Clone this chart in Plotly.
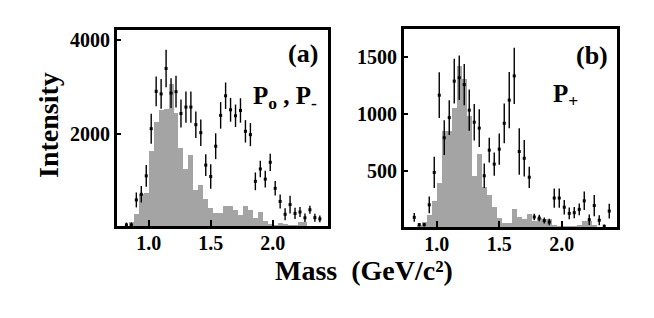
import plotly.graph_objects as go

# bin centres (GeV/c^2)
mass = [0.82, 0.86, 0.90, 0.94, 0.98, 1.02, 1.06, 1.10, 1.14, 1.18,
        1.22, 1.26, 1.30, 1.34, 1.38, 1.42, 1.46, 1.50, 1.54, 1.58,
        1.62, 1.66, 1.70, 1.74, 1.78, 1.82, 1.86, 1.90, 1.94, 1.98,
        2.02, 2.06, 2.10, 2.14, 2.18, 2.22, 2.26, 2.30, 2.34, 2.38]

# panel (a): P0, P-
a_points = [45, 45, 580, 700, 1095, 2105, 2905, 2850, 3395, 2866,
            2898, 2430, 2568, 2568, 2192, 2020, 1325, 1080, 1730, 2390,
            2810, 2510, 2382, 2496, 2049, 1978, 978, 1242, 1025, 1385,
            828, 547, 272, 480, 291, 322, 197, 369, 200, 173]
a_errors = [50, 50, 160, 177, 234, 320, 320, 320, 400, 320,
            340, 300, 335, 335, 284, 284, 234, 262, 277, 284,
            284, 255, 240, 262, 240, 248, 190, 177, 177, 184,
            156, 150, 128, 190, 120, 106, 92, 85, 85, 71]
a_hist = [0, 110, 270, 700, 730, 1620, 2250, 2500, 2520, 3060,
          2450, 1700, 1250, 1540, 800, 900, 590, 400, 300, 300,
          440, 440, 355, 262, 441, 355, 190, 319, 125, 54,
          32, 82, 54, 32, 32, 104, 104, 0, 0, 0]

# panel (b): P+
b_points = [93, 29, 29, 203, 486, 1162, 790, 966, 1285, 1315,
            1255, 1031, 926, 874, 457, 681, 559, 690, 916, 1119,
            1331, 669, 610, 444, 96, 87, 65, 52, 262, 262,
            182, 128, 134, 163, 238, 73, 196, 68, 15, 148]
b_errors = [38, 15, 15, 73, 137, 200, 152, 152, 195, 195,
            180, 180, 160, 166, 108, 108, 102, 137, 174, 247,
            247, 203, 160, 93, 29, 29, 26, 29, 84, 84,
            64, 52, 49, 52, 81, 46, 93, 44, 15, 64]
b_hist = [0, 30, 55, 110, 240, 390, 850, 850, 1050, 1420,
          1300, 980, 455, 650, 362, 290, 188, 90, 45, 40,
          170, 95, 80, 120, 65, 85, 80, 80, 30, 15,
          15, 15, 15, 25, 65, 65, 30, 0, 0, 0]

x_ticks = [1.0, 1.5, 2.0]
x_ticklabels = ["1.0", "1.5", "2.0"]
a_yticks = [2000, 4000]
b_yticks = [500, 1000, 1500]

W, H = 654, 318
FONT = "Liberation Serif, Times New Roman, serif"
GREY = "#a4a4a4"

fig = go.Figure()
for hist, pts, errs, xa, ya in [(a_hist, a_points, a_errors, "x", "y"),
                                (b_hist, b_points, b_errors, "x2", "y2")]:
    fig.add_trace(go.Bar(x=mass, y=hist, width=0.04, marker=dict(color=GREY, line=dict(width=0)),
                         xaxis=xa, yaxis=ya, showlegend=False, hoverinfo="skip"))
    fig.add_trace(go.Scatter(x=mass, y=pts, mode="markers",
                             marker=dict(symbol="square", size=3, color="black"),
                             error_y=dict(type="data", array=errs, color="black", thickness=1.4, width=0),
                             xaxis=xa, yaxis=ya, showlegend=False, hoverinfo="skip"))

def px_x(p):
    return p / W

def px_y(p):
    return 1 - p / H

axis_common = dict(showline=True, linecolor="black", linewidth=2, mirror=True,
                   ticks="inside", tickcolor="black", tickwidth=2, showgrid=False,
                   zeroline=False,
                   tickfont=dict(family=FONT, size=20, color="black", weight="bold"))

fig.update_layout(
    width=W, height=H, margin=dict(l=0, r=0, t=0, b=0),
    paper_bgcolor="white", plot_bgcolor="white", bargap=0,
    xaxis=dict(domain=[px_x(116), px_x(329)], range=[0.736, 2.454], anchor="y",
               tickvals=x_ticks, ticktext=x_ticklabels, ticklen=7, ticklabelstandoff=-3,
               **axis_common),
    yaxis=dict(domain=[px_y(227), px_y(29)], range=[0, 4240], anchor="x",
               tickvals=a_yticks, ticklen=5, **axis_common),
    xaxis2=dict(domain=[px_x(403), px_x(618)], range=[0.73, 2.45], anchor="y2",
                tickvals=x_ticks, ticktext=x_ticklabels, ticklen=7, ticklabelstandoff=-3,
                **axis_common),
    yaxis2=dict(domain=[px_y(228), px_y(28)], range=[0, 1750], anchor="x2",
                tickvals=b_yticks, ticklen=5, **axis_common),
)

# closed frames around both panels
for xr, yr in [("x domain", "y domain"), ("x2 domain", "y2 domain")]:
    fig.add_shape(type="rect", xref=xr, yref=yr, x0=0, x1=1, y0=0, y1=1,
                  line=dict(color="black", width=2), fillcolor="rgba(0,0,0,0)", layer="above")

def note(text, x, y, size, angle=0, xanchor="center"):
    fig.add_annotation(text=text, x=px_x(x), y=px_y(y), xref="paper", yref="paper",
                       showarrow=False, textangle=angle, xanchor=xanchor, yanchor="middle",
                       font=dict(family=FONT, size=size, color="black", weight="bold"))

note("Intensity", 48, 125, 28, angle=-90)
note("Mass  (GeV/c²)", 364, 270, 28)
note("(a)", 303, 54, 26)
note("P<sub>o</sub> , P<sub>-</sub>", 285, 97, 25)
note("(b)", 592, 56, 26)
note("P<sub>+</sub>", 565, 95, 25)

fig.write_html("out.html", config={"displayModeBar": False},
               post_script="document.body.style.margin='0';document.body.style.padding='0';")
